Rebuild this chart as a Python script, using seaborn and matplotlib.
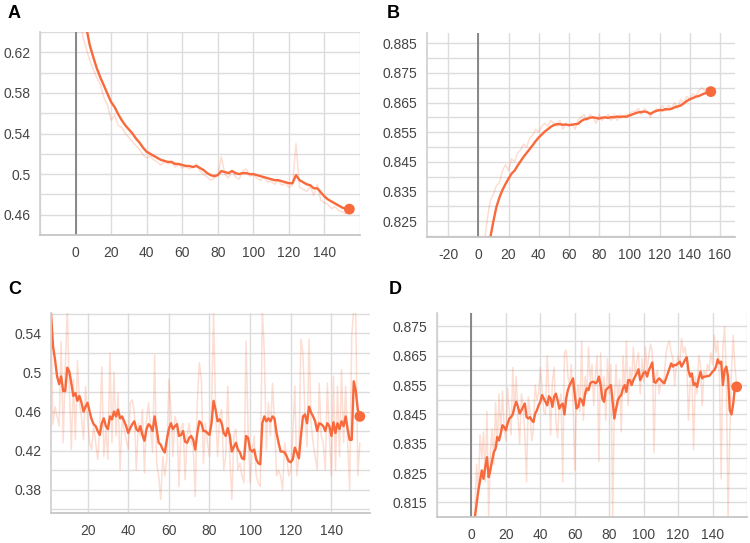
import numpy as np
import seaborn as sns
import matplotlib.pyplot as plt

ORANGE = '#f8693b'

# ---- panel A (steps 2..154, every 2) ----
steps_a = list(range(2, 155, 2))
raw_a = [0.700, 0.636, 0.624, 0.612, 0.603, 0.595, 0.588, 0.575, 0.568, 0.553,
         0.558, 0.548, 0.546, 0.540, 0.536, 0.532, 0.528, 0.524, 0.519, 0.516,
         0.518, 0.514, 0.512, 0.509, 0.512, 0.510, 0.511, 0.507, 0.509, 0.506,
         0.508, 0.505, 0.507, 0.510, 0.503, 0.500, 0.497, 0.494, 0.496, 0.499,
         0.517, 0.500, 0.496, 0.504, 0.497, 0.495, 0.503, 0.505, 0.498, 0.499,
         0.496, 0.494, 0.497, 0.492, 0.493, 0.490, 0.494, 0.489, 0.491, 0.487,
         0.489, 0.530, 0.487, 0.485, 0.483, 0.488, 0.479, 0.490, 0.474, 0.472,
         0.470, 0.466, 0.468, 0.464, 0.463, 0.461, 0.463]
smooth_a = [0.700, 0.672, 0.645, 0.627, 0.615, 0.604, 0.595, 0.587, 0.579, 0.571,
            0.566, 0.559, 0.553, 0.548, 0.544, 0.540, 0.535, 0.531, 0.526, 0.522,
            0.520, 0.518, 0.516, 0.514, 0.513, 0.512, 0.512, 0.510, 0.510, 0.509,
            0.508, 0.508, 0.507, 0.508, 0.506, 0.504, 0.501, 0.499, 0.498, 0.499,
            0.503, 0.502, 0.501, 0.503, 0.501, 0.500, 0.501, 0.501, 0.500, 0.500,
            0.499, 0.498, 0.497, 0.496, 0.495, 0.494, 0.494, 0.493, 0.492, 0.491,
            0.491, 0.499, 0.494, 0.492, 0.490, 0.489, 0.486, 0.486, 0.482, 0.478,
            0.475, 0.473, 0.471, 0.469, 0.467, 0.466, 0.4655]

# ---- panel B (steps 2..154, every 2) ----
steps_b = list(range(2, 155, 2))
raw_b = [0.805, 0.818, 0.826, 0.832, 0.834, 0.837, 0.838, 0.842, 0.844, 0.842,
         0.846, 0.845, 0.848, 0.849, 0.851, 0.850, 0.853, 0.854, 0.856, 0.855,
         0.857, 0.858, 0.857, 0.859, 0.858, 0.857, 0.859, 0.856, 0.858, 0.857,
         0.858, 0.856, 0.859, 0.860, 0.861, 0.859, 0.861, 0.860, 0.858, 0.861,
         0.859, 0.860, 0.861, 0.859, 0.861, 0.859, 0.861, 0.860, 0.861, 0.861,
         0.862, 0.862, 0.863, 0.861, 0.863, 0.862, 0.860, 0.862, 0.863, 0.862,
         0.864, 0.862, 0.864, 0.863, 0.865, 0.863, 0.866, 0.865, 0.867, 0.866,
         0.868, 0.867, 0.869, 0.870, 0.869, 0.870, 0.869]
smooth_b = [0.790, 0.800, 0.810, 0.8196, 0.825, 0.8298, 0.833, 0.8355, 0.8375, 0.8393,
            0.841, 0.842, 0.8437, 0.8452, 0.8467, 0.848, 0.8493, 0.8506, 0.852, 0.8532,
            0.8542, 0.8552, 0.856, 0.8568, 0.8574, 0.8577, 0.8577, 0.8575, 0.8576, 0.8574,
            0.8575, 0.8577, 0.8578, 0.8587, 0.8593, 0.8595, 0.8599, 0.860, 0.8598, 0.8596,
            0.8599, 0.860, 0.8598, 0.8601, 0.860, 0.8603, 0.8601, 0.8603, 0.8602, 0.8606,
            0.861, 0.8614, 0.8617, 0.8618, 0.862, 0.8617, 0.8612, 0.8618, 0.8622, 0.8625,
            0.8624, 0.8628, 0.8627, 0.8629, 0.8634, 0.8637, 0.864, 0.8647, 0.8655, 0.8661,
            0.8665, 0.867, 0.8672, 0.8677, 0.8681, 0.8684, 0.8687]

# ---- panel C (steps 2..154) ----
steps_c = list(range(2, 155))
raw_c = [0.560, 0.447, 0.465, 0.455, 0.445, 0.532, 0.428, 0.503, 0.565, 0.486,
         0.421, 0.493, 0.431, 0.512, 0.469, 0.455, 0.431, 0.486, 0.452, 0.428,
         0.421, 0.445, 0.428, 0.411, 0.442, 0.506, 0.414, 0.442, 0.411, 0.520,
         0.428, 0.500, 0.435, 0.479, 0.400, 0.452, 0.442, 0.431, 0.421, 0.469,
         0.472, 0.459, 0.400, 0.448, 0.435, 0.462, 0.397, 0.452, 0.469, 0.442,
         0.418, 0.518, 0.407, 0.394, 0.370, 0.414, 0.394, 0.411, 0.493, 0.462,
         0.414, 0.455, 0.448, 0.383, 0.442, 0.448, 0.390, 0.435, 0.448, 0.428,
         0.424, 0.373, 0.469, 0.510, 0.493, 0.407, 0.448, 0.428, 0.414, 0.462,
         0.561, 0.462, 0.414, 0.455, 0.462, 0.400, 0.414, 0.486, 0.414, 0.370,
         0.435, 0.442, 0.400, 0.407, 0.394, 0.387, 0.532, 0.442, 0.387, 0.418,
         0.435, 0.394, 0.387, 0.383, 0.565, 0.520, 0.421, 0.469, 0.435, 0.489,
         0.448, 0.394, 0.400, 0.394, 0.380, 0.428, 0.414, 0.394, 0.400, 0.435,
         0.486, 0.394, 0.414, 0.534, 0.520, 0.455, 0.424, 0.534, 0.448, 0.428,
         0.414, 0.400, 0.489, 0.435, 0.428, 0.400, 0.489, 0.435, 0.394, 0.496,
         0.400, 0.486, 0.414, 0.503, 0.428, 0.486, 0.428, 0.380, 0.537, 0.565,
         0.561, 0.394, 0.428]
smooth_c = [0.561, 0.527, 0.513, 0.496, 0.488, 0.496, 0.481, 0.481, 0.505, 0.501,
            0.489, 0.476, 0.479, 0.471, 0.476, 0.469, 0.460, 0.465, 0.469, 0.460,
            0.452, 0.447, 0.445, 0.440, 0.436, 0.448, 0.453, 0.445, 0.442, 0.455,
            0.452, 0.460, 0.455, 0.462, 0.453, 0.455, 0.450, 0.445, 0.438, 0.443,
            0.447, 0.450, 0.442, 0.440, 0.445, 0.436, 0.430, 0.442, 0.447, 0.445,
            0.440, 0.455, 0.442, 0.428, 0.426, 0.421, 0.418, 0.431, 0.442, 0.448,
            0.442, 0.445, 0.447, 0.435, 0.436, 0.440, 0.429, 0.428, 0.433, 0.435,
            0.431, 0.421, 0.438, 0.450, 0.448, 0.440, 0.440, 0.438, 0.436, 0.448,
            0.471, 0.462, 0.450, 0.452, 0.448, 0.438, 0.435, 0.443, 0.435, 0.419,
            0.424, 0.428, 0.421, 0.418, 0.412, 0.411, 0.435, 0.433, 0.421, 0.419,
            0.421, 0.411, 0.407, 0.406, 0.448, 0.455, 0.450, 0.453, 0.450, 0.455,
            0.453, 0.438, 0.428, 0.419, 0.419, 0.418, 0.414, 0.409, 0.408, 0.411,
            0.423, 0.418, 0.412, 0.435, 0.455, 0.457, 0.448, 0.465, 0.459, 0.455,
            0.450, 0.440, 0.448, 0.447, 0.445, 0.440, 0.448, 0.445, 0.435, 0.449,
            0.438, 0.448, 0.442, 0.450, 0.445, 0.455, 0.442, 0.431, 0.431, 0.491,
            0.481, 0.462, 0.455]

# ---- panel D (steps 1..154) ----
steps_d = list(range(1, 155))
raw_d = [0.805, 0.812, 0.828, 0.818, 0.838, 0.830, 0.839, 0.822, 0.846, 0.810,
         0.832, 0.840, 0.828, 0.849, 0.834, 0.852, 0.838, 0.853, 0.840, 0.836,
         0.854, 0.846, 0.838, 0.861, 0.846, 0.858, 0.844, 0.835, 0.852, 0.848,
         0.838, 0.822, 0.851, 0.846, 0.836, 0.840, 0.855, 0.850, 0.852, 0.861,
         0.854, 0.846, 0.845, 0.865, 0.852, 0.838, 0.856, 0.861, 0.843, 0.837,
         0.849, 0.852, 0.822, 0.866, 0.867, 0.858, 0.855, 0.862, 0.848, 0.826,
         0.851, 0.855, 0.846, 0.870, 0.843, 0.858, 0.852, 0.868, 0.856, 0.862,
         0.848, 0.858, 0.865, 0.829, 0.866, 0.850, 0.858, 0.843, 0.864, 0.852,
         0.862, 0.809, 0.850, 0.862, 0.848, 0.857, 0.839, 0.865, 0.852, 0.870,
         0.848, 0.861, 0.855, 0.868, 0.858, 0.863, 0.866, 0.852, 0.864, 0.856,
         0.868, 0.860, 0.865, 0.869, 0.866, 0.832, 0.858, 0.860, 0.852, 0.857,
         0.855, 0.858, 0.866, 0.869, 0.870, 0.866, 0.864, 0.855, 0.862, 0.865,
         0.862, 0.871, 0.866, 0.868, 0.864, 0.843, 0.856, 0.858, 0.833, 0.858,
         0.852, 0.865, 0.862, 0.848, 0.860, 0.858, 0.862, 0.860, 0.866, 0.862,
         0.872, 0.866, 0.870, 0.858, 0.823, 0.868, 0.875, 0.858, 0.810, 0.838,
         0.860, 0.872, 0.861, 0.855]
smooth_d = [0.805, 0.8099, 0.8144, 0.819, 0.8224, 0.8259, 0.823, 0.827, 0.8304, 0.8236,
            0.826, 0.8293, 0.8321, 0.8333, 0.8373, 0.8361, 0.8384, 0.8413, 0.8407, 0.8396,
            0.8419, 0.8436, 0.8441, 0.845, 0.8476, 0.8493, 0.8476, 0.8453, 0.8464, 0.8476,
            0.8487, 0.8441, 0.8436, 0.8441, 0.843, 0.8424, 0.8453, 0.8464, 0.8481, 0.8493,
            0.8516, 0.8504, 0.8493, 0.8481, 0.8512, 0.8504, 0.8476, 0.851, 0.8521, 0.8499,
            0.847, 0.8481, 0.8487, 0.845, 0.8504, 0.8533, 0.855, 0.8561, 0.8573, 0.8516,
            0.847, 0.8476, 0.8504, 0.8499, 0.8481, 0.8521, 0.8539, 0.8533, 0.8556, 0.8561,
            0.8561, 0.8556, 0.8561, 0.8579, 0.855, 0.8504, 0.8493, 0.8533, 0.8539, 0.8544,
            0.855, 0.8493, 0.8436, 0.847, 0.8499, 0.851, 0.8516, 0.8539, 0.855, 0.8527,
            0.8567, 0.8567, 0.855, 0.8567, 0.8579, 0.859, 0.8604, 0.8567, 0.8579, 0.8592,
            0.8596, 0.8579, 0.8601, 0.8613, 0.8627, 0.8561, 0.8558, 0.8567, 0.8573, 0.8567,
            0.8561, 0.8556, 0.8573, 0.859, 0.8607, 0.8624, 0.8613, 0.8619, 0.8619, 0.8624,
            0.863, 0.8613, 0.8624, 0.8636, 0.8645, 0.8601, 0.8579, 0.859, 0.855, 0.8556,
            0.8544, 0.8573, 0.8596, 0.8573, 0.8579, 0.8579, 0.8581, 0.8581, 0.8588, 0.8596,
            0.8601, 0.8613, 0.8638, 0.8624, 0.863, 0.855, 0.8601, 0.8613, 0.8579, 0.8464,
            0.845, 0.8487, 0.8544, 0.8544]

sns.set_theme(style='white')
plt.rcParams['font.family'] = ['Liberation Sans', 'DejaVu Sans']

fig = plt.figure(figsize=(7.5, 5.43), dpi=100)
W, H = 750, 543


def panel(box, letter, lpos, steps, raw, smooth, xlim, xticks, xlabels,
          ylim, ygrid, ymajor, zero_line=True):
    x0, y0, x1, y1 = box
    ax = fig.add_axes([x0 / W, 1 - y1 / H, (x1 - x0) / W, (y1 - y0) / H])
    sns.lineplot(x=steps, y=raw, ax=ax, color=ORANGE, alpha=0.22, lw=1.1)
    sns.lineplot(x=steps, y=smooth, ax=ax, color=ORANGE, lw=1.7)
    sns.scatterplot(x=steps[-1:], y=smooth[-1:], ax=ax, color=ORANGE, s=60,
                    edgecolor='none', zorder=5, clip_on=False)
    if zero_line:
        ax.axvline(0, color='#808080', lw=1.3, zorder=1)
    ax.set_xlim(*xlim)
    ax.set_ylim(*ylim)
    ax.set_xticks(xticks)
    ax.set_xticklabels(xlabels)
    ax.set_yticks(ygrid)
    ax.set_yticklabels([f'{v:g}' if any(abs(v - m) < 1e-9 for m in ymajor) else ''
                        for v in ygrid])
    ax.grid(True, color='#dcdcdc', lw=1.0)
    ax.set_axisbelow(True)
    for s in ['top', 'right']:
        ax.spines[s].set_visible(False)
    ax.spines['left'].set_color('#d0d0d0')
    ax.spines['bottom'].set_color('#c4c4c4')
    ax.tick_params(axis='x', length=4, color='#c4c4c4', labelsize=10,
                   labelcolor='#444444', pad=4)
    ax.tick_params(axis='y', length=0, labelsize=10, labelcolor='#444444', pad=7)
    ax.set_xlabel('')
    ax.set_ylabel('')
    fig.text(lpos[0] / W, 1 - lpos[1] / H, letter, fontsize=13,
             fontweight='bold', va='top', ha='left', color='black')
    return ax


x20 = list(range(-20, 161, 20))
lab_inner = [''] + [str(v) for v in range(0, 141, 20)] + ['']

panel((40, 32, 360, 235), 'A', (8, 5), steps_a, raw_a, smooth_a,
      (-20, 160), x20, lab_inner,
      (0.44, 0.64), np.round(np.arange(0.44, 0.6401, 0.02), 3),
      [0.46, 0.50, 0.54, 0.58, 0.62])

panel((427, 33, 735, 237), 'B', (387, 5), steps_b, raw_b, smooth_b,
      (-34, 170), x20, [str(v) for v in x20],
      (0.8196, 0.8885), np.round(np.arange(0.82, 0.8851, 0.005), 3),
      [0.825, 0.835, 0.845, 0.855, 0.865, 0.875, 0.885])

panel((51, 313, 370, 513), 'C', (8, 281), steps_c, raw_c, smooth_c,
      (2, 159), list(range(20, 141, 20)), [str(v) for v in range(20, 141, 20)],
      (0.356, 0.561), np.round(np.arange(0.36, 0.5601, 0.02), 3),
      [0.38, 0.42, 0.46, 0.50, 0.54], zero_line=False)

panel((437, 313, 747, 517), 'D', (389, 281), steps_d, raw_d, smooth_d,
      (-20, 160), x20, lab_inner,
      (0.81, 0.8796), np.round(np.arange(0.81, 0.8751, 0.005), 3),
      [0.815, 0.825, 0.835, 0.845, 0.855, 0.865, 0.875])

fig.savefig('out.png', dpi=100)
